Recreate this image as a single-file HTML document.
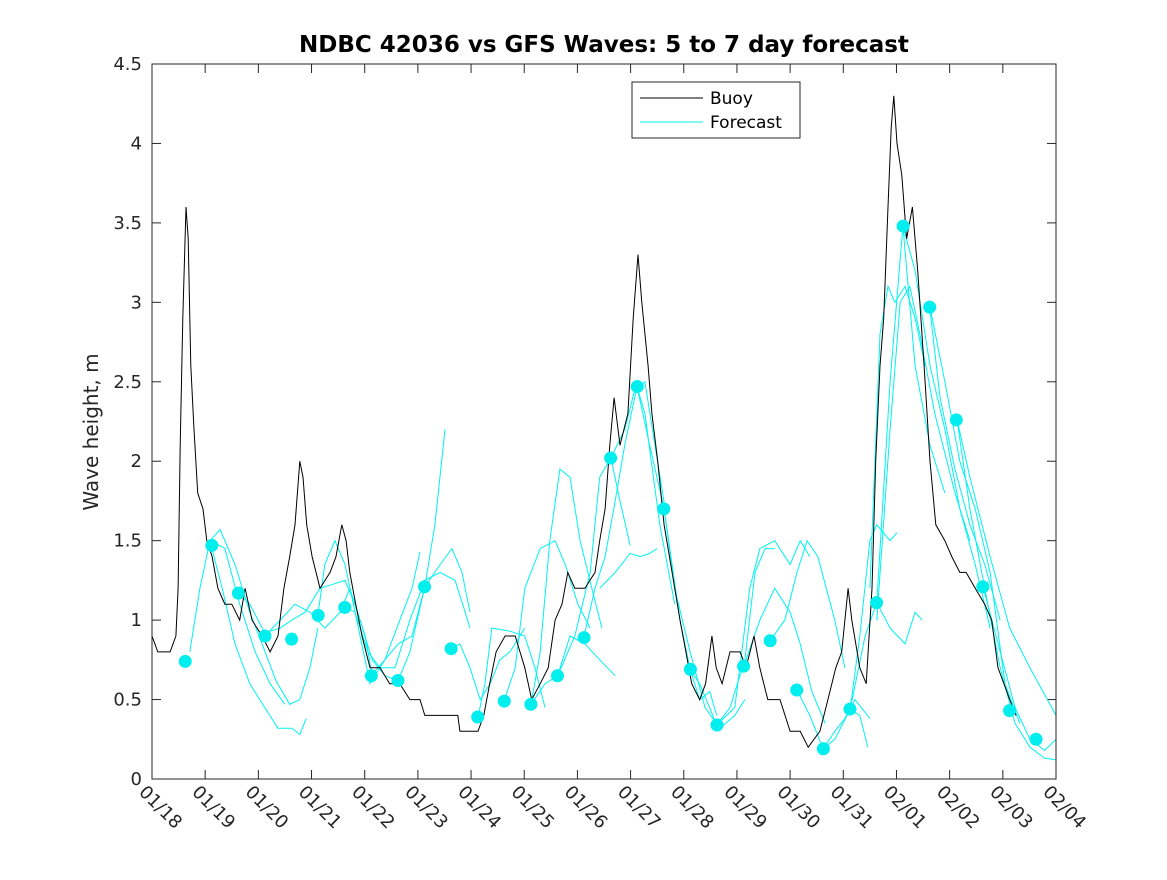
<!DOCTYPE html>
<html><head><meta charset="utf-8"><style>
body{margin:0;background:#fff;}
svg text{font-family:"DejaVu Sans","Liberation Sans",sans-serif;fill:#262626;}
</style></head><body>
<svg id="chart" width="1167" height="875" xmlns="http://www.w3.org/2000/svg">
<rect x="0" y="0" width="1167" height="875" fill="#fff"/>
<text x="604" y="52" text-anchor="middle" font-size="23" font-weight="bold" style="fill:#000">NDBC 42036 vs GFS Waves: 5 to 7 day forecast</text>
<text transform="translate(98,432) rotate(-90)" text-anchor="middle" font-size="20">Wave height, m</text>
<g id="grid"></g>
<g id="fc"></g>
<g id="buoy"></g>
<g id="dots"></g>
<rect x="152" y="64" width="904" height="715" fill="none" stroke="#262626" stroke-width="1"/>
<g>
<rect x="632" y="82" width="168" height="56" fill="#fff" stroke="#262626"/>
<line x1="640" y1="98" x2="703" y2="98" stroke="#000"/>
<text x="710" y="104" font-size="17" style="fill:#000">Buoy</text>
<line x1="640" y1="122" x2="703" y2="122" stroke="#00f2f2"/>
<text x="710" y="128" font-size="17" style="fill:#000">Forecast</text>
</g>
</svg>
<script>
const xTickLabels=["01/18","01/19","01/20","01/21","01/22","01/23","01/24","01/25","01/26","01/27","01/28","01/29","01/30","01/31","02/01","02/02","02/03","02/04"];
const yTickValues=[0,0.5,1,1.5,2,2.5,3,3.5,4,4.5];
const yTickLabels=["0","0.5","1","1.5","2","2.5","3","3.5","4","4.5"];
const buoyDays=[0,0.11,0.34,0.45,0.49,0.53,0.58,0.64,0.68,0.73,0.79,0.86,0.96,1.03,1.13,1.24,1.37,1.50,1.65,1.75,1.88,2.07,2.22,2.37,2.48,2.59,2.69,2.78,2.84,2.91,3.01,3.16,3.35,3.46,3.57,3.65,3.72,3.83,3.95,4.10,4.29,4.47,4.66,4.85,5.04,5.13,5.41,5.75,5.79,6.13,6.24,6.35,6.47,6.64,6.83,6.92,7.01,7.14,7.30,7.45,7.58,7.71,7.82,7.95,8.14,8.33,8.42,8.52,8.61,8.69,8.80,8.95,9.05,9.14,9.21,9.33,9.40,9.51,9.63,9.78,9.93,10.04,10.15,10.30,10.41,10.53,10.61,10.72,10.87,11.06,11.17,11.32,11.43,11.58,11.81,12.00,12.19,12.34,12.56,12.71,12.86,12.97,13.09,13.16,13.31,13.43,13.54,13.61,13.69,13.76,13.84,13.90,13.95,14.01,14.10,14.19,14.30,14.40,14.52,14.63,14.74,14.91,15.04,15.19,15.31,15.48,15.66,15.79,15.91,16.02,16.13,16.25];
const buoyHeights=[0.9,0.8,0.8,0.9,1.2,2.1,2.9,3.6,3.4,2.6,2.2,1.8,1.7,1.5,1.4,1.2,1.1,1.1,1.0,1.2,1.0,0.9,0.8,0.9,1.2,1.4,1.6,2.0,1.9,1.6,1.4,1.2,1.3,1.4,1.6,1.5,1.3,1.1,0.9,0.7,0.7,0.6,0.6,0.5,0.5,0.4,0.4,0.4,0.3,0.3,0.4,0.6,0.8,0.9,0.9,0.8,0.7,0.5,0.6,0.7,1.0,1.1,1.3,1.2,1.2,1.3,1.5,1.7,2.1,2.4,2.1,2.3,2.9,3.3,3.0,2.6,2.3,2.0,1.6,1.3,1.0,0.8,0.6,0.5,0.6,0.9,0.7,0.6,0.8,0.8,0.7,0.9,0.7,0.5,0.5,0.3,0.3,0.2,0.3,0.5,0.7,0.8,1.2,1.0,0.7,0.6,1.2,2.0,2.6,2.9,3.6,4.1,4.3,4.0,3.8,3.4,3.6,3.2,2.6,2.0,1.6,1.5,1.4,1.3,1.3,1.2,1.1,1.0,0.7,0.6,0.5,0.4];
const dotDays=[0.625,1.125,1.625,2.125,2.625,3.125,3.625,4.125,4.625,5.125,5.625,6.125,6.625,7.125,7.625,8.125,8.625,9.125,9.625,10.125,10.625,11.125,11.625,12.125,12.625,13.125,13.625,14.125,14.625,15.125,15.625,16.125,16.625];
const dotHeights=[0.74,1.47,1.17,0.90,0.88,1.03,1.08,0.65,0.62,1.21,0.82,0.39,0.49,0.47,0.65,0.89,2.02,2.47,1.70,0.69,0.34,0.71,0.87,0.56,0.19,0.44,1.11,3.48,2.97,2.26,1.21,0.43,0.25];
const fcDays=[
[0.71,0.90,1.09,1.28,1.56,1.84,2.07,2.33,2.59,2.78,2.97,3.12],
[1.11,1.32,1.56,1.84,2.12,2.37,2.63,2.78,2.90],
[1.11,1.37,1.65,1.94,2.22,2.50],
[1.62,1.84,2.12,2.41,2.63,2.88,3.16,3.35,3.63,3.82,4.01,4.14],
[2.12,2.41,2.69,2.97,3.25,3.54,3.72,3.91,4.14,4.38,4.63],
[3.12,3.25,3.44,3.63,3.82,4.10,4.38,4.63,4.89,5.13],
[3.63,3.82,4.06,4.29,4.57,4.85,5.13,5.42,5.70,5.89,5.98],
[4.12,4.38,4.66,4.89,5.04],
[4.63,4.85,5.13,5.32,5.51],
[5.13,5.42,5.64,5.83,5.98],
[5.62,5.79,5.98,6.17,6.36,6.54,6.73,6.92,7.01],
[6.13,6.26,6.39,6.73,7.01,7.20,7.39],
[6.62,6.83,7.01,7.30,7.58,7.77,8.01,8.24],
[7.13,7.30,7.48,7.67,7.86,8.05,8.27,8.46],
[7.13,7.39,7.63,7.86,8.14,8.42,8.71],
[7.63,7.95,8.24,8.42,8.63,8.80,8.99],
[8.12,8.33,8.52,8.71,8.89,9.12,9.27,9.55,9.83],
[8.63,8.89,9.08,9.27,9.46,9.65],
[8.42,8.71,8.99,9.18,9.36,9.50],
[9.12,9.36,9.63,9.93,10.12,10.30,10.49,10.62],
[9.63,9.83,10.12,10.40,10.68,10.96,11.15],
[10.12,10.30,10.62,10.87,11.15,11.34,11.53,11.71],
[10.62,10.96,11.24,11.43,11.71,12.00,12.19,12.37],
[11.13,11.43,11.71,12.00,12.19,12.41,12.66],
[11.62,11.90,12.13,12.32,12.52,12.84,13.03],
[12.13,12.37,12.62,12.84,13.03,13.22,13.50],
[12.62,12.84,13.13,13.31,13.46],
[13.13,13.31,13.50,13.63,13.88,14.01],
[13.13,13.41,13.63,13.88,14.16,14.35,14.48],
[13.50,13.69,13.84,13.97,14.16,14.35,14.54],
[13.63,13.88,14.12,14.35,14.63,14.91],
[13.63,13.88,14.07,14.25,14.44,14.72,15.10,15.38],
[14.12,14.35,14.63,14.91,15.19,15.48,15.76],
[14.63,14.91,15.19,15.48,15.76,16.04,16.32],
[15.14,15.38,15.66,15.95,16.23,16.51,16.79,17.0],
[15.14,15.38,15.76,16.13,16.51,17.0],
[15.63,15.95,16.23,16.51,16.79,17.0],
[14.63,14.82,15.10,15.38,15.66,15.95]];
const fcHeights=[
[0.8,1.2,1.5,1.57,1.35,1.05,0.85,0.62,0.47,0.5,0.7,0.95],
[1.47,1.2,0.85,0.6,0.45,0.32,0.32,0.28,0.38],
[1.5,1.45,1.1,0.8,0.6,0.47],
[1.17,1.1,0.92,0.95,1.0,1.05,1.2,1.22,1.25,1.1,0.9,0.65],
[0.9,1.0,1.1,1.05,0.95,1.05,1.2,1.0,0.75,0.65,0.62],
[1.03,1.35,1.5,1.35,1.05,0.6,0.75,0.85,0.9,1.21],
[1.08,1.05,0.8,0.7,0.7,1.0,1.25,1.3,1.25,1.05,0.95],
[0.65,0.75,1.0,1.2,1.43],
[0.62,0.8,1.21,1.6,2.2],
[1.21,1.35,1.45,1.3,1.05],
[0.82,0.85,0.7,0.5,0.6,0.75,0.8,0.9,0.95],
[0.39,0.6,0.95,0.93,0.9,0.7,0.45],
[0.49,0.7,1.2,1.45,1.5,1.35,1.1,0.95],
[0.47,0.8,1.5,1.95,1.9,1.5,1.2,0.95],
[0.47,0.6,0.65,0.9,0.85,0.75,0.65],
[0.65,0.9,1.3,1.9,2.02,1.75,1.47],
[0.89,1.2,1.4,1.75,2.1,2.47,2.3,1.6,1.1],
[2.02,2.2,2.45,2.5,2.1,1.7],
[1.2,1.3,1.42,1.4,1.42,1.45],
[2.47,2.1,1.7,1.0,0.69,0.5,0.55,0.4],
[1.7,1.2,0.8,0.45,0.32,0.4,0.5],
[0.69,0.6,0.34,0.45,0.75,1.3,1.45,1.45],
[0.34,0.45,1.2,1.45,1.5,1.35,1.5,1.4],
[0.71,1.0,1.2,1.05,0.85,0.55,0.35],
[0.87,1.0,1.3,1.5,1.4,1.0,0.7],
[0.56,0.4,0.19,0.3,0.38,0.5,0.38],
[0.19,0.25,0.44,0.4,0.2],
[0.44,0.9,1.5,1.6,1.5,1.55],
[0.44,0.9,1.11,0.95,0.85,1.05,1.0],
[1.2,2.8,3.1,3.0,3.1,2.9,2.6],
[1.11,2.5,3.48,2.6,2.1,1.8],
[1.0,2.2,3.0,3.1,2.8,2.3,1.8,1.5],
[3.48,3.2,2.6,2.2,1.7,1.35,0.95],
[2.97,2.5,2.0,1.7,1.3,0.6,0.35],
[2.26,1.7,1.2,0.7,0.35,0.2,0.13,0.12],
[2.26,1.9,1.4,0.95,0.7,0.4],
[1.21,0.8,0.45,0.25,0.18,0.25],
[2.95,2.4,1.95,1.6,1.35,1.0]];

const NS="http://www.w3.org/2000/svg";
const X0=152,X1=1056,Y0=779,Y1=64,DMAX=17,HMAX=4.5;
const xs=d=>X0+(d/DMAX)*(X1-X0);
const ys=h=>Y0-(h/HMAX)*(Y0-Y1);
function mk(tag,attrs,parent){const e=document.createElementNS(NS,tag);for(const k in attrs)e.setAttribute(k,attrs[k]);parent.appendChild(e);return e;}
const grid=document.getElementById('grid');
yTickValues.forEach((v,i)=>{
  const y=ys(v);
  const t=mk('line',{x1:X0,y1:y,x2:X0+9,y2:y,stroke:'#262626'},grid);
  
  
  const t2=mk('line',{x1:X1-9,y1:y,x2:X1,y2:y,stroke:'#262626'},grid);
  
  
  const l=mk('text',{x:X0-10,y:y+6,'text-anchor':'end','font-size':'18'},grid);
  l.textContent=yTickLabels[i];
  
  
});
xTickLabels.forEach((s,i)=>{
  const x=xs(i);
  const t=mk('line',{x1:x,y1:Y0,x2:x,y2:Y0-9,stroke:'#262626'},grid);
  
  
  const t2=mk('line',{x1:x,y1:Y1,x2:x,y2:Y1+9,stroke:'#262626'},grid);
  
  
  const l=mk('text',{x:0,y:0,'font-size':'18',transform:`translate(${x-14},${Y0+14}) rotate(45)`},grid);
  l.textContent=s;
  
  
});
const fc=document.getElementById('fc');
fcDays.forEach((ds,j)=>{
  const pts=ds.map((d,i)=>xs(d).toFixed(1)+','+ys(fcHeights[j][i]).toFixed(1)).join(' ');
  const p=mk('polyline',{points:pts,fill:'none',stroke:'#00f2f2','stroke-width':'1'},fc);
  
  
});
const bp=buoyDays.map((d,i)=>xs(d).toFixed(1)+','+ys(buoyHeights[i]).toFixed(1));
const b=mk('polyline',{points:bp.join(' '),fill:'none',stroke:'#000','stroke-width':'1'},document.getElementById('buoy'));


const dots=document.getElementById('dots');
dotDays.forEach((d,i)=>{
  const c=mk('circle',{cx:xs(d),cy:ys(dotHeights[i]),r:6.5,fill:'#00eeee'},dots);
  
  
});
</script>
</body></html>
